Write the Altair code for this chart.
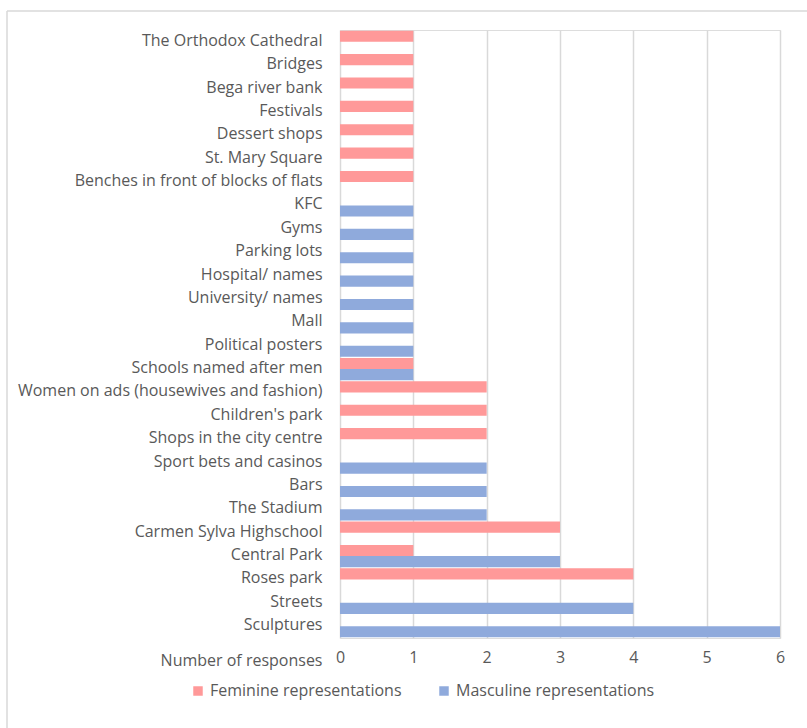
import altair as alt
import pandas as pd

categories = [
    "The Orthodox Cathedral", "Bridges", "Bega river bank", "Festivals",
    "Dessert shops", "St. Mary Square", "Benches in front of blocks of flats",
    "KFC", "Gyms", "Parking lots", "Hospital/ names", "University/ names",
    "Mall", "Political posters", "Schools named after men",
    "Women on ads (housewives and fashion)", "Children's park",
    "Shops in the city centre", "Sport bets and casinos", "Bars",
    "The Stadium", "Carmen Sylva Highschool", "Central Park", "Roses park",
    "Streets", "Sculptures",
]
feminine = [1, 1, 1, 1, 1, 1, 1, 0, 0, 0, 0, 0, 0, 0, 1, 2, 2, 2, 0, 0, 0, 3, 1, 4, 0, 0]
masculine = [0, 0, 0, 0, 0, 0, 0, 1, 1, 1, 1, 1, 1, 1, 1, 0, 0, 0, 2, 2, 2, 0, 3, 0, 4, 6]
series = ["Feminine representations", "Masculine representations"]
colors = ["#FF9999", "#8FAADC"]
x_ticks = [0, 1, 2, 3, 4, 5, 6]

rows = []
for c, f, m in zip(categories, feminine, masculine):
    rows.append({"place": c, "series": series[0], "value": f})
    rows.append({"place": c, "series": series[1], "value": m})
df = pd.DataFrame(rows)

FONT = "Open Sans"
GREY = "#595959"
FS = 16

bars = alt.Chart(df).mark_bar().encode(
    y=alt.Y("place:N", sort=categories,
            scale=alt.Scale(paddingInner=0.05, paddingOuter=0.03),
            axis=alt.Axis(title=None, ticks=False, domain=False, labelPadding=18,
                          labelFont=FONT, labelFontSize=FS, labelColor=GREY,
                          labelLimit=400, labelOffset=-1)),
    yOffset=alt.YOffset("series:N", sort=series),
    x=alt.X("value:Q", scale=alt.Scale(domain=[0, 6], nice=False),
            axis=alt.Axis(values=x_ticks, title="Number of responses",
                          ticks=False, domain=False, grid=True,
                          gridColor="#d9d9d9", gridWidth=1.5,
                          labelFont=FONT, labelFontSize=FS, labelColor=GREY,
                          labelPadding=11, labelFlush=False,
                          titleFont=FONT, titleFontSize=FS, titleColor=GREY,
                          titleFontWeight="normal",
                          titleX=-18, titleY=22, titleAlign="right",
                          titleBaseline="middle", titleAnchor="start")),
    color=alt.Color("series:N", sort=series,
                    scale=alt.Scale(domain=series, range=colors),
                    legend=alt.Legend(title=None, orient="none", direction="horizontal",
                                      legendX=-150, legendY=653,
                                      symbolType="square", symbolSize=90,
                                      symbolStrokeWidth=0, labelLimit=0,
                                      labelFont=FONT, labelFontSize=FS, labelColor=GREY,
                                      columnPadding=34, labelOffset=4)),
)

frame_top = alt.Chart(alt.Data(values=[{}])).mark_rule(
    stroke="#d9d9d9", strokeWidth=1.5
).encode(x=alt.value(-333), x2=alt.value(470), y=alt.value(-19))

frame_left = alt.Chart(alt.Data(values=[{}])).mark_rule(
    stroke="#d9d9d9", strokeWidth=1.5
).encode(x=alt.value(-333), y=alt.value(-19), y2=alt.value(705))

chart = alt.layer(frame_top, frame_left, bars).properties(
    width=440, height=608,
    autosize=alt.AutoSizeParams(type="none"),
    padding={"left": 340, "top": 30, "right": 27, "bottom": 90},
).configure_view(stroke=None).configure(background="white")

chart.save("out.html", embed_options={"renderer": "svg", "actions": False})
